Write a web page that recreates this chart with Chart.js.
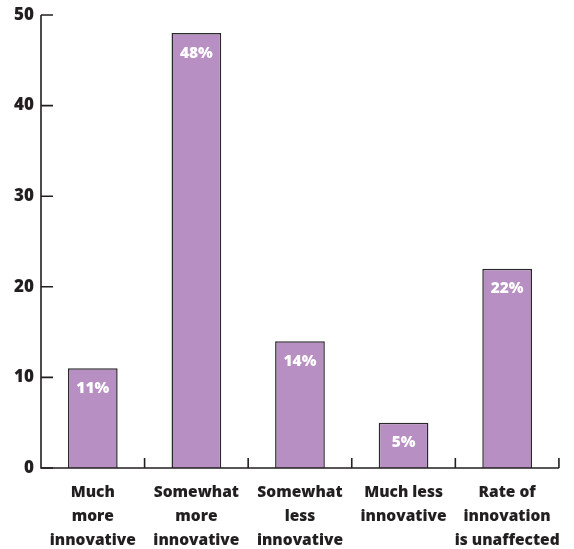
<!DOCTYPE html>
<html>
<head>
<meta charset="utf-8">
<script src="https://cdn.jsdelivr.net/npm/chart.js@4/dist/chart.umd.min.js"></script>
<style>
  html, body { margin: 0; padding: 0; background: #ffffff; }
  #wrap { width: 574px; height: 549px; }
</style>
</head>
<body>
<div id="wrap"><canvas id="c" width="574" height="549"></canvas></div>
<script>
// Survey responses: how innovation has changed
const categories = [
  ['Much', 'more', 'innovative'],
  ['Somewhat', 'more', 'innovative'],
  ['Somewhat', 'less', 'innovative'],
  ['Much less', 'innovative'],
  ['Rate of', 'innovation', 'is unaffected']
];
const shares = [11, 48, 14, 5, 22];
const yTicks = [0, 10, 20, 30, 40, 50];

const INK = '#231f20';
const FILL = '#b78fc2';
const FONT = '"Open Sans", "Noto Sans", sans-serif';

// Axis lines and inward-pointing tick marks
const axisMarks = {
  id: 'axisMarks',
  afterDatasetsDraw(chart) {
    const { ctx, chartArea: a, scales: { x, y } } = chart;
    ctx.save();
    ctx.strokeStyle = INK;
    ctx.lineWidth = 1.6;
    ctx.beginPath();
    ctx.moveTo(a.left, a.top);
    ctx.lineTo(a.left, a.bottom);
    ctx.lineTo(a.right, a.bottom);
    ctx.stroke();
    ctx.beginPath();
    yTicks.forEach(v => {
      const py = y.getPixelForValue(v);
      ctx.moveTo(a.left, py);
      ctx.lineTo(a.left + 12, py);
    });
    const step = x.getPixelForValue(1) - x.getPixelForValue(0);
    for (let i = 0; i < categories.length; i++) {
      const px = x.getPixelForValue(i) + step / 2;
      ctx.moveTo(px, a.bottom);
      ctx.lineTo(px, a.bottom - 10);
    }
    ctx.stroke();
    ctx.restore();
  }
};

// Percentage labels inside each bar near its top
const valueLabels = {
  id: 'valueLabels',
  afterDatasetsDraw(chart) {
    const { ctx } = chart;
    const meta = chart.getDatasetMeta(0);
    ctx.save();
    ctx.fillStyle = '#ffffff';
    ctx.font = '800 15.5px ' + FONT;
    ctx.textAlign = 'center';
    ctx.textBaseline = 'middle';
    meta.data.forEach((bar, i) => {
      ctx.fillText(shares[i] + '%', bar.x, bar.y + 20);
    });
    ctx.restore();
  }
};

new Chart(document.getElementById('c'), {
  type: 'bar',
  data: {
    labels: categories,
    datasets: [{
      data: shares,
      backgroundColor: FILL,
      borderColor: '#2b2a2b',
      borderWidth: 1.5,
      borderSkipped: 'bottom',
      barPercentage: 0.48,
      categoryPercentage: 1.0
    }]
  },
  options: {
    responsive: false,
    animation: false,
    layout: { padding: { top: 15, right: 14, left: 0, bottom: 0 } },
    plugins: { legend: { display: false }, tooltip: { enabled: false } },
    scales: {
      x: {
        afterFit(scale) { scale.height = 81; },
        grid: { display: false, drawTicks: false },
        border: { display: false },
        ticks: {
          color: INK,
          font: { family: FONT, size: 15.5, weight: 800, lineHeight: 1.55 },
          padding: 13,
          maxRotation: 0,
          autoSkip: false
        }
      },
      y: {
        min: 0,
        max: 50,
        afterBuildTicks(scale) { scale.ticks = yTicks.map(v => ({ value: v })); },
        afterFit(scale) { scale.width = 41; scale.paddingTop = 0; scale.paddingBottom = 0; },
        grid: { display: false, drawTicks: false },
        border: { display: false },
        ticks: {
          color: INK,
          font: { family: FONT, size: 17, weight: 800 },
          padding: 7
        }
      }
    }
  },
  plugins: [axisMarks, valueLabels]
});
</script>
</body>
</html>
